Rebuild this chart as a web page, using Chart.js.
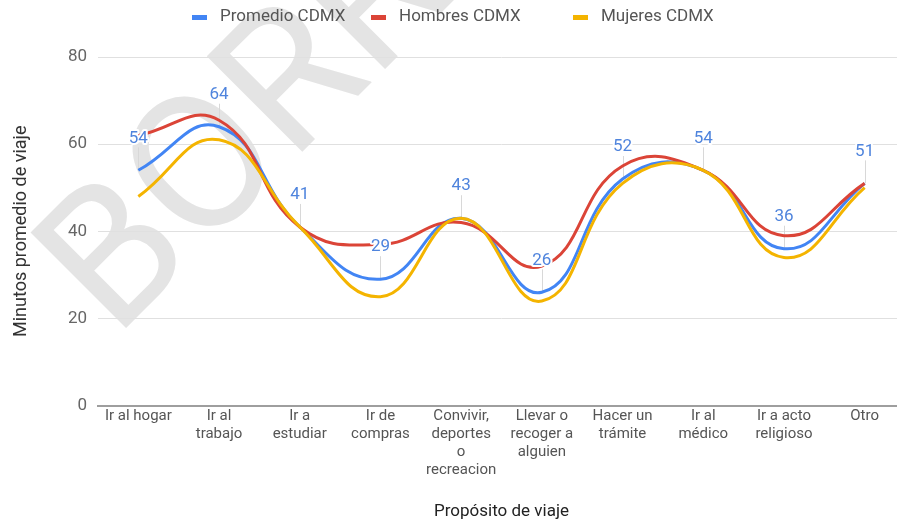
<!DOCTYPE html>
<html>
<head>
<meta charset="utf-8">
<script src="https://cdn.jsdelivr.net/npm/chart.js@4.4.1/dist/chart.umd.min.js"></script>
<style>
  html, body { margin: 0; padding: 0; overflow: hidden; background: #fff; }
</style>
</head>
<body>
<canvas id="grafica" width="905" height="523"></canvas>
<script>
// categorias del eje x (multilinea)
var propositos = [
  "Ir al hogar",
  ["Ir al", "trabajo"],
  ["Ir a", "estudiar"],
  ["Ir de", "compras"],
  ["Convivir,", "deportes", "o", "recreacion"],
  ["Llevar o", "recoger a", "alguien"],
  ["Hacer un", "trámite"],
  ["Ir al", "médico"],
  ["Ir a acto", "religioso"],
  "Otro"
];
var promedio = [54, 64, 41, 29, 43, 26, 52, 54, 36, 51];
var hombres  = [62, 65.5, 41, 37, 42, 32, 55, 54, 39, 51];
var mujeres  = [48, 61, 41, 25, 43, 24, 51, 54, 34, 50];
var series = ["Promedio CDMX", "Hombres CDMX", "Mujeres CDMX"];
var colores = ["#4285f4", "#db4437", "#f4b400"];
var ticksY = [0, 20, 40, 60, 80];

Chart.defaults.font.family = "Roboto";

// marca de agua + fondo
var marcaAgua = {
  id: 'marcaAgua',
  beforeDraw: function(chart) {
    var ctx = chart.ctx;
    ctx.save();
    ctx.fillStyle = '#fff';
    ctx.fillRect(0, 0, chart.width, chart.height);
    ctx.translate(115, 339);
    ctx.rotate(-Math.PI / 4);
    ctx.font = '190px Roboto';
    ctx.textAlign = 'left';
    ctx.textBaseline = 'alphabetic';
    ctx.fillStyle = '#e4e4e4';
    ctx.fillText('BORRADOR', 0, 0);
    ctx.restore();
  }
};

// leyenda dibujada a mano (cajitas cortas como en el original)
var leyenda = {
  id: 'leyenda',
  afterDraw: function(chart) {
    var ctx = chart.ctx;
    var xs = [192, 371, 573];
    ctx.save();
    ctx.font = '17px Roboto';
    ctx.textAlign = 'left';
    ctx.textBaseline = 'middle';
    series.forEach(function(nombre, i) {
      ctx.fillStyle = colores[i];
      ctx.fillRect(xs[i], 15, 15, 5);
      ctx.fillStyle = '#555';
      ctx.fillText(nombre, xs[i] + 28, 17);
    });
    ctx.restore();
  }
};

// etiquetas de la serie promedio
var etiquetas = {
  id: 'etiquetas',
  beforeDatasetsDraw: function(chart) {
    var ctx = chart.ctx;
    var meta = chart.getDatasetMeta(0);
    ctx.save();
    ctx.strokeStyle = '#d8d8d8';
    ctx.lineWidth = 1;
    meta.data.forEach(function(pt) {
      var x = Math.round(pt.x) + 0.5;
      ctx.beginPath();
      ctx.moveTo(x, pt.y);
      ctx.lineTo(x, pt.y - 23);
      ctx.stroke();
    });
    ctx.restore();
  },
  afterDatasetsDraw: function(chart) {
    var ctx = chart.ctx;
    var meta = chart.getDatasetMeta(0);
    ctx.save();
    ctx.font = '17px Roboto';
    ctx.textAlign = 'center';
    ctx.textBaseline = 'middle';
    ctx.lineJoin = 'round';
    meta.data.forEach(function(pt, i) {
      var t = String(Math.round(promedio[i]));
      var y = pt.y - 32;
      ctx.lineWidth = 4;
      ctx.strokeStyle = '#fff';
      ctx.strokeText(t, pt.x, y);
      ctx.fillStyle = '#4f84dd';
      ctx.fillText(t, pt.x, y);
    });
    ctx.restore();
  }
};

var ctx = document.getElementById('grafica');
var chart = new Chart(ctx, {
  type: 'line',
  data: {
    labels: propositos,
    datasets: [
      { label: series[0], data: promedio, borderColor: colores[0], backgroundColor: colores[0], order: 3 },
      { label: series[1], data: hombres, borderColor: colores[1], backgroundColor: colores[1], order: 2 },
      { label: series[2], data: mujeres, borderColor: colores[2], backgroundColor: colores[2], order: 1 }
    ]
  },
  options: {
    responsive: false,
    animation: false,
    layout: { padding: { top: 57, left: 0, right: 0, bottom: 0 } },
    elements: {
      line: { tension: 0.45, borderWidth: 3 },
      point: { radius: 0, hoverRadius: 0 }
    },
    plugins: {
      tooltip: { enabled: false },
      legend: { display: false }
    },
    scales: {
      x: {
        offset: true,
        grid: { display: false, drawTicks: false, offset: true },
        border: { color: '#9e9e9e', width: 2 },
        ticks: {
          color: '#555',
          font: { size: 15, lineHeight: 1.2 },
          maxRotation: 0,
          autoSkip: false,
          padding: 2
        },
        title: {
          display: true,
          text: 'Propósito de viaje',
          color: '#222',
          font: { size: 17 },
          padding: { top: 20, bottom: 1 }
        }
      },
      y: {
        min: 0,
        max: 80,
        afterFit: function(scale) { scale.width = 98; },
        afterBuildTicks: function(scale) {
          scale.ticks = ticksY.map(function(v) { return { value: v }; });
        },
        grid: { color: '#e0e0e0', drawTicks: false },
        border: { display: false },
        ticks: { color: '#666', font: { size: 17 }, padding: 11 },
        title: {
          display: true,
          text: 'Minutos promedio de viaje',
          color: '#333',
          font: { size: 18 },
          padding: { top: 11, bottom: 0 }
        }
      }
    }
  },
  plugins: [marcaAgua, etiquetas, leyenda]
});
</script>
</body>
</html>
